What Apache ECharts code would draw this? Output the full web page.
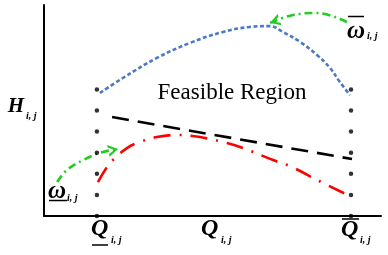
<!DOCTYPE html>
<html><head><meta charset="utf-8">
<script src="https://cdn.jsdelivr.net/npm/echarts@6/dist/echarts.min.js"></script>
<style>html,body{margin:0;padding:0;background:#fff}#c{width:388px;height:255px}</style>
</head><body><div id="c"></div>
<script>
// ---- data (abstract units: x 0..10, y 0..10) ----
const qLower = 1.57;
const qUpper = 9.11;
const dotLevels = [0, 1, 2, 3, 4, 5, 6];
const upperX = [1.66, 2.34, 3.35, 4.33, 5.31, 6.11, 6.71, 7.09, 7.60, 8.10, 8.49, 8.78, 9.08];
const upperY = [5.83, 6.54, 7.49, 8.20, 8.72, 8.96, 9.00, 8.72, 8.25, 7.63, 7.01, 6.35, 5.73];
const lowerX = [1.60, 1.87, 2.11, 2.46, 2.76, 3.35, 3.95, 4.63, 5.43, 5.91, 6.80, 7.36, 8.10, 9.14];
const lowerY = [1.61, 2.32, 2.75, 3.22, 3.46, 3.74, 3.84, 3.74, 3.46, 3.22, 2.65, 2.32, 1.71, 0.90];
const dashX = [2.02, 9.14];
const dashY = [4.69, 2.70];
const arrowLowX = [0.39, 0.68, 1.16, 1.66, 2.20];
const arrowLowY = [1.61, 2.18, 2.65, 2.99, 3.18];
const arrowUpX = [8.99, 8.10, 7.39, 6.71];
const arrowUpY = [9.19, 9.62, 9.53, 9.15];
const arrowLowAngle = 12;   // degrees, head direction (CCW from right)
const arrowUpAngle = 19;    // degrees, head direction (CCW from left)

const zip = (xs, ys) => xs.map((x, i) => [x, ys[i]]);
const RIGHT = 'path://M0,0L10,6L0,12L0,9.2L6.4,6L0,2.8Z';
const LEFT = 'path://M10,0L0,6L10,12L10,9.2L3.6,6L10,2.8Z';

function arrowData(xs, ys, path, angleDeg, dir) {
  const d = zip(xs, ys).map(p => ({ value: p, symbol: 'none' }));
  const a = angleDeg * Math.PI / 180;
  const half = 5;
  const tx = dir * half * Math.cos(a);
  const ty = -half * Math.sin(a) * (dir > 0 ? 1 : -1);
  d[d.length - 1] = {
    value: d[d.length - 1].value,
    symbol: path, symbolSize: [10, 12], symbolRotate: angleDeg,
    symbolOffset: [-tx, -ty]
  };
  return d;
}

const chart = echarts.init(document.getElementById('c'), null, { renderer: 'canvas' });
const axisCommon = {
  type: 'value', min: 0, max: 10,
  axisLine: { show: true, onZero: false, lineStyle: { color: '#000', width: 2 } },
  axisTick: { show: false }, axisLabel: { show: false }, splitLine: { show: false }
};
const serif = '"Liberation Serif", "Times New Roman", serif';
const txt = (text, x, y, size, weight, style, align) => ({
  type: 'text', x, y, silent: true,
  style: { text, fill: '#000', font: `${style} ${weight} ${size}px ${serif}`,
           align: align || 'left', verticalAlign: 'middle' }
});
const hline = (x1, x2, y) => ({
  type: 'line', silent: true, shape: { x1, y1: y, x2, y2: y },
  style: { stroke: '#000', lineWidth: 1.5 }
});

chart.setOption({
  animation: false,
  backgroundColor: '#fff',
  grid: { left: 44, right: 7, top: 5, bottom: 39, containLabel: false },
  xAxis: axisCommon,
  yAxis: axisCommon,
  series: [
    { type: 'scatter', data: dotLevels.map(v => [qLower, v]), symbol: 'circle', symbolSize: 4.5,
      itemStyle: { color: '#000' }, z: 5 },
    { type: 'scatter', data: dotLevels.map(v => [qUpper, v]), symbol: 'circle', symbolSize: 4.5,
      itemStyle: { color: '#000' }, z: 5 },
    { type: 'line', data: zip(upperX, upperY), smooth: 0.4, symbol: 'none',
      lineStyle: { color: '#4A7AC6', width: 2.6, type: [4, 2.5] } },
    { type: 'line', data: zip(dashX, dashY), symbol: 'none',
      lineStyle: { color: '#000', width: 2.6, type: [17, 9] } },
    { type: 'line', data: zip(lowerX, lowerY), smooth: 0.4, symbol: 'none',
      lineStyle: { color: '#FF0000', width: 2.6, type: [17, 9, 2, 9] } },
    { type: 'line', data: arrowData(arrowLowX, arrowLowY, RIGHT, arrowLowAngle, 1), smooth: 0.4,
      showSymbol: true, showAllSymbol: true, clip: false,
      itemStyle: { color: '#22CC22' },
      lineStyle: { color: '#22CC22', width: 2.6, type: [8, 4, 2, 4] } },
    { type: 'line', data: arrowData(arrowUpX, arrowUpY, LEFT, arrowUpAngle, -1), smooth: 0.4,
      showSymbol: true, showAllSymbol: true, clip: false,
      itemStyle: { color: '#22CC22' },
      lineStyle: { color: '#22CC22', width: 2.6, type: [8, 4, 2, 4] } }
  ],
  graphic: [
    txt('Feasible Region', 232, 93, 23, 'normal', 'normal', 'center'),
    txt('H', 16, 107, 21, 'bold', 'italic', 'center'),
    txt('i, j', 26, 116, 10, 'bold', 'italic'),
    txt('ω', 48, 192, 25, 'bold', 'italic'),
    hline(49, 67, 200.5),
    txt('i, j', 67, 198, 10, 'bold', 'italic'),
    txt('ω', 347, 32, 25, 'bold', 'italic'),
    hline(348, 364, 16.5),
    txt('i, j', 367, 36, 10, 'bold', 'italic'),
    txt('Q', 91, 229, 24, 'bold', 'italic'),
    hline(92, 108, 245),
    txt('i, j', 111, 240, 10, 'bold', 'italic'),
    txt('Q', 201, 229, 24, 'bold', 'italic'),
    txt('i, j', 221, 240, 10, 'bold', 'italic'),
    txt('Q', 341, 230, 24, 'bold', 'italic'),
    hline(342, 359, 219),
    txt('i, j', 360, 240, 10, 'bold', 'italic')
  ]
});
</script>
</body></html>
